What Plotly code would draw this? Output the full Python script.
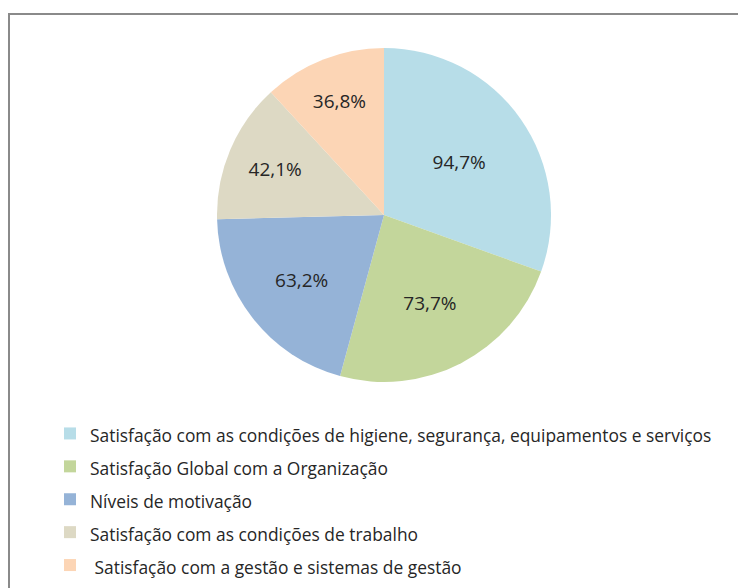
import plotly.graph_objects as go

categories = [
    "Satisfação com as condições de higiene, segurança, equipamentos e serviços",
    "Satisfação Global com a Organização",
    "Níveis de motivação",
    "Satisfação com as condições de trabalho",
    " Satisfação com a gestão e sistemas de gestão",
]
values = [94.7, 73.7, 63.2, 42.1, 36.8]
colors = ["#B7DDE8", "#C3D69B", "#95B3D7", "#DDD9C4", "#FCD5B5"]

W, H = 746, 588
FONT = "Open Sans"
text_labels = [f"{v:.1f}".replace(".", ",") + "%" for v in values]
legend_labels = [f'<span style="font-size:17.4px">{c}</span>' for c in categories]

# the page body adds an 8px offset; positions below are in figure pixels
cx, cy, r = 376, 207, 167
fig = go.Figure(
    go.Pie(
        labels=legend_labels,
        values=values,
        text=text_labels,
        textinfo="text",
        textposition="inside",
        insidetextorientation="horizontal",
        textfont=dict(family=FONT, size=19, color="#262626"),
        marker=dict(colors=colors, line=dict(width=0)),
        sort=False,
        direction="clockwise",
        rotation=0,
        hoverinfo="label+percent",
        domain=dict(x=[(cx - r) / W, (cx + r) / W], y=[1 - (cy + r) / H, 1 - (cy - r) / H]),
    )
)

fig.add_shape(
    type="rect", xref="paper", yref="paper",
    x0=1 / W, x1=1.02, y0=-0.02, y1=1 - 6 / H,
    line=dict(color="#8a8a8a", width=2), fillcolor="rgba(0,0,0,0)",
)

fig.update_layout(
    width=W, height=H,
    margin=dict(l=0, r=0, t=0, b=0),
    paper_bgcolor="white",
    plot_bgcolor="white",
    showlegend=True,
    legend=dict(
        x=42 / W, xanchor="left",
        y=1 - 404 / H, yanchor="top",
        font=dict(family=FONT, size=23, color="#262626"),
        bgcolor="rgba(0,0,0,0)",
        traceorder="normal",
    ),
    font=dict(family=FONT),
)

fig.write_html("out.html")
